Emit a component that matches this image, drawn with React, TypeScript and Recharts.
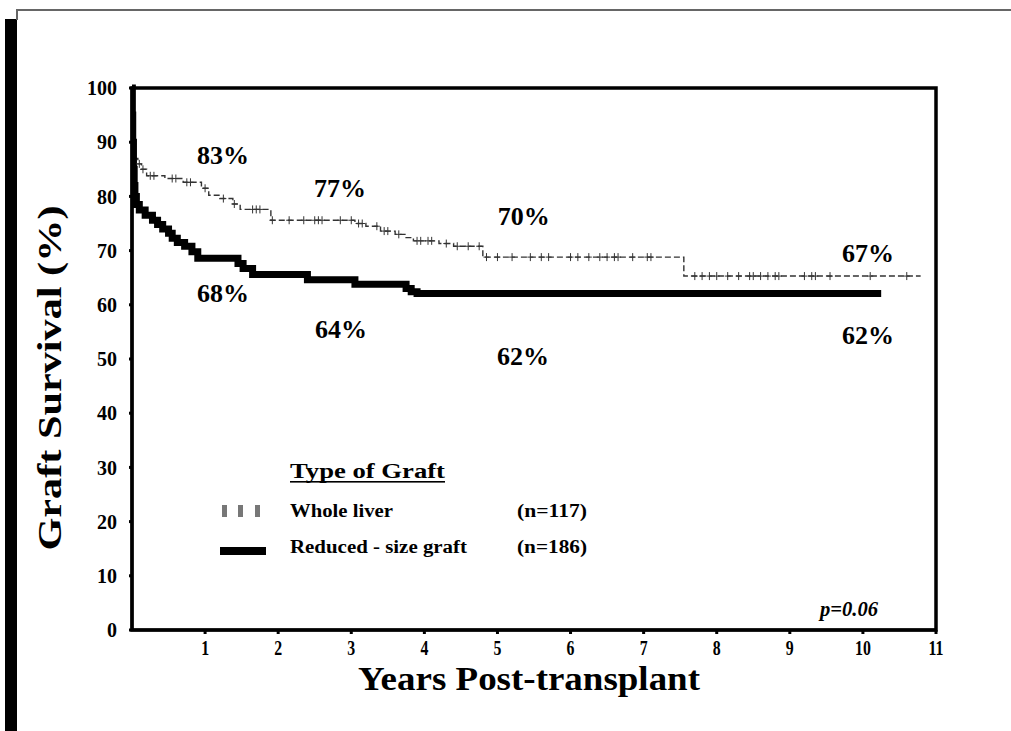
import React from "react";
import {
  ComposedChart,
  Line,
  Scatter,
  XAxis,
  YAxis,
  ReferenceArea,
  ReferenceDot,
} from "recharts";

// ---- data ----
const wholeTimes = [0, 0.01, 0.02, 0.04, 0.08, 0.13, 0.2, 0.45, 0.7, 0.95, 1.05, 1.2, 1.38, 1.48, 1.9, 3.05, 3.2, 3.4, 3.6, 3.75, 3.85, 4.2, 4.4, 4.8, 7.55, 10.79];
const wholeSurv = [100, 92, 89, 87, 86, 85, 83.8, 83.3, 82.6, 81.5, 80.2, 79.6, 78.6, 77.6, 75.6, 75.0, 74.5, 73.6, 73.0, 72.4, 71.8, 71.3, 70.8, 68.8, 65.3, 65.3];
const wholeCensor = [0.1, 0.15, 0.25, 0.3, 0.55, 0.6, 0.75, 0.8, 1.0, 1.25, 1.4, 1.65, 1.7, 1.75, 1.92, 2.15, 2.35, 2.5, 2.55, 2.6, 2.85, 3.0, 3.1, 3.15, 3.35, 3.45, 3.5, 3.65, 3.9, 3.95, 4.05, 4.1, 4.3, 4.45, 4.6, 4.75, 4.85, 5.0, 5.2, 5.45, 5.6, 5.7, 6.0, 6.1, 6.25, 6.4, 6.5, 6.6, 6.65, 6.85, 7.05, 7.1, 7.7, 7.8, 7.9, 8.0, 8.15, 8.3, 8.45, 8.5, 8.6, 8.7, 8.8, 8.85, 9.2, 9.3, 9.35, 9.55, 10.1, 10.6];

const reducedTimes = [0, 0.005, 0.01, 0.02, 0.03, 0.04, 0.06, 0.1, 0.18, 0.28, 0.35, 0.42, 0.5, 0.55, 0.62, 0.72, 0.82, 0.9, 1.45, 1.52, 1.65, 2.4, 3.05, 3.75, 3.82, 3.9, 10.25];
const reducedSurv = [100, 95, 90, 85, 82, 80, 78.5, 77.5, 76.5, 75.6, 74.8, 74.0, 73.2, 72.3, 71.5, 70.8, 69.8, 68.6, 67.6, 66.7, 65.6, 64.6, 63.8, 63.0, 62.4, 62.1, 62.1];

const xTicks = [1, 2, 3, 4, 5, 6, 7, 8, 9, 10, 11];
const yTicks = [0, 10, 20, 30, 40, 50, 60, 70, 80, 90, 100];

const pctTexts = ["83%", "77%", "70%", "67%", "68%", "64%", "62%", "62%"];
const pctYears = [1.245, 2.845, 5.36, 10.07, 1.245, 2.86, 5.35, 10.07];
const pctValues = [87.5, 81.4, 76.2, 69.4, 62.0, 55.4, 50.4, 54.4];

const legendTitle = "Type of Graft";
const seriesNames = ["Whole liver", "Reduced - size graft"];
const seriesN = ["(n=117)", "(n=186)"];
const pValue = "p=0.06";

// ---- derived tables ----
const wholeData = wholeTimes.map((t, i) => ({ t, s: wholeSurv[i] }));
const reducedData = reducedTimes.map((t, i) => ({ t, s: reducedSurv[i] }));
const stepAt = (times: number[], vals: number[], x: number) => {
  let v = vals[0];
  for (let i = 0; i < times.length; i++) if (times[i] <= x) v = vals[i];
  return v;
};
const censorData = wholeCensor.map((t) => ({ t, s: stepAt(wholeTimes, wholeSurv, t) }));

const SERIF = "'Liberation Serif', 'Times New Roman', serif";

const CensorMark = (props: any) => {
  const { cx, cy } = props;
  if (cx == null || cy == null) return null;
  return (
    <path
      d={`M${cx - 3},${cy}h6M${cx},${cy - 4}v8`}
      stroke="#333"
      strokeWidth={1}
      fill="none"
    />
  );
};

const XTick = (props: any) => {
  const { x, y, payload } = props;
  return (
    <text
      transform={`translate(${x},${y}) scale(0.72,1)`}
      x={0}
      y={0}
      dy={19}
      textAnchor="middle"
      fontFamily={SERIF}
      fontWeight="bold"
      fontSize={22}
      fill="#000"
    >
      {payload.value}
    </text>
  );
};

export default function App() {
  return (
    <div style={{ position: "absolute", left: 0, top: 0, width: 1011, height: 731, background: "#fff", overflow: "hidden" }}>
      {/* page frame decorations */}
      <div style={{ position: "absolute", left: 5, top: 19, width: 12, height: 712, background: "#000" }} />
      <div style={{ position: "absolute", left: 16, top: 9, width: 995, height: 2, background: "#666" }} />
      <div style={{ position: "absolute", left: 16, top: 9, width: 2, height: 11, background: "#666" }} />

      <ComposedChart
        width={1011}
        height={731}
        margin={{ top: 88, right: 75, bottom: 71, left: 72 }}
        style={{ position: "absolute", left: 0, top: 0 }}
      >
        <XAxis
          type="number"
          dataKey="t"
          domain={[0, 11]}
          ticks={xTicks}
          allowDataOverflow
          height={30}
          axisLine={{ stroke: "#000", strokeWidth: 3 }}
          tickLine={{ stroke: "#000", strokeWidth: 3 }}
          tickSize={4}
          tick={<XTick />}
        />
        <YAxis
          type="number"
          dataKey="s"
          domain={[0, 100]}
          ticks={yTicks}
          width={60}
          axisLine={{ stroke: "#000", strokeWidth: 3 }}
          tickLine={{ stroke: "#000", strokeWidth: 3 }}
          tickSize={3}
          tickMargin={12}
          tick={{ fontFamily: SERIF, fontWeight: "bold", fontSize: 20, fill: "#000" }}
        />
        <ReferenceArea
          x1={0}
          x2={11}
          y1={0}
          y2={100}
          fill="none"
          fillOpacity={0}
          stroke="#000"
          strokeWidth={3.5}
          ifOverflow="visible"
        />
        <Line
          data={wholeData}
          dataKey="s"
          type="stepAfter"
          stroke="#333"
          strokeWidth={1.4}
          strokeDasharray="6 3"
          dot={false}
          activeDot={false}
          isAnimationActive={false}
        />
        <Scatter
          data={censorData}
          dataKey="s"
          shape={<CensorMark />}
          isAnimationActive={false}
        />
        <Line
          data={reducedData}
          dataKey="s"
          type="stepAfter"
          stroke="#000"
          strokeWidth={7}
          dot={false}
          activeDot={false}
          isAnimationActive={false}
        />
        {pctTexts.map((txt, i) => (
          <ReferenceDot
            key={i}
            x={pctYears[i]}
            y={pctValues[i]}
            r={0}
            ifOverflow="visible"
            shape={(p: any) => (
              <text
                x={p.cx}
                y={p.cy}
                textAnchor="middle"
                dominantBaseline="central"
                fontFamily={SERIF}
                fontWeight="bold"
                fontSize={26}
                fill="#000"
              >
                {txt}
              </text>
            )}
          />
        ))}
      </ComposedChart>

      {/* titles, legend and annotation */}
      <svg width={1011} height={731} style={{ position: "absolute", left: 0, top: 0, pointerEvents: "none" }}>
        <text
          transform="translate(61,378) rotate(-90)"
          textAnchor="middle"
          fontFamily={SERIF}
          fontWeight="bold"
          fontSize={34}
          textLength={345}
          lengthAdjust="spacingAndGlyphs"
          fill="#000"
        >
          Graft  Survival (%)
        </text>
        <text
          x={358}
          y={690}
          fontFamily={SERIF}
          fontWeight="bold"
          fontSize={33}
          textLength={342}
          lengthAdjust="spacingAndGlyphs"
          fill="#000"
        >
          Years Post-transplant
        </text>

        <text x={290} y={478} fontFamily={SERIF} fontWeight="bold" fontSize={20} textLength={155} lengthAdjust="spacingAndGlyphs" fill="#000">
          {legendTitle}
        </text>
        <rect x={290} y={481} width={155} height={1.6} fill="#000" />

        <rect x={222} y={505} width={5} height={12} fill="#777" />
        <rect x={238} y={505} width={5} height={12} fill="#777" />
        <rect x={255} y={505} width={5} height={12} fill="#777" />
        <text x={290} y={517} fontFamily={SERIF} fontWeight="bold" fontSize={18} textLength={103} lengthAdjust="spacingAndGlyphs" fill="#000">
          {seriesNames[0]}
        </text>
        <text x={517} y={517} fontFamily={SERIF} fontWeight="bold" fontSize={18} textLength={70} lengthAdjust="spacingAndGlyphs" fill="#000">
          {seriesN[0]}
        </text>

        <rect x={220} y={547} width={46} height={8} fill="#000" />
        <text x={290} y={553} fontFamily={SERIF} fontWeight="bold" fontSize={18} textLength={177} lengthAdjust="spacingAndGlyphs" fill="#000">
          {seriesNames[1]}
        </text>
        <text x={517} y={553} fontFamily={SERIF} fontWeight="bold" fontSize={18} textLength={70} lengthAdjust="spacingAndGlyphs" fill="#000">
          {seriesN[1]}
        </text>

        <text x={820} y={616} fontFamily={SERIF} fontWeight="bold" fontStyle="italic" fontSize={21} textLength={58} lengthAdjust="spacingAndGlyphs" fill="#000">
          {pValue}
        </text>
      </svg>
    </div>
  );
}
